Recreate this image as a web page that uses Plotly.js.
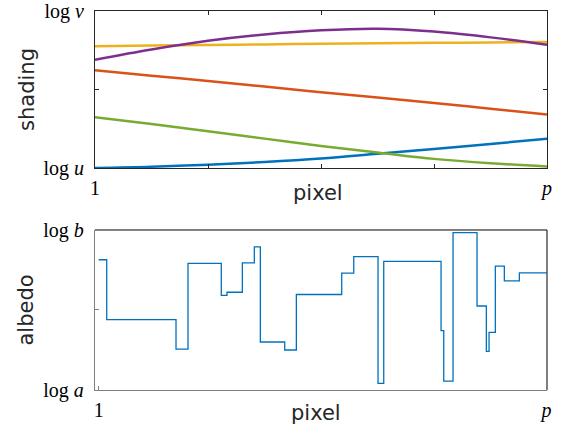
<!DOCTYPE html>
<html>
<head>
<meta charset="utf-8">
<script src="https://cdn.plot.ly/plotly-3.0.1.min.js"></script>
<style>html,body{margin:0;padding:0;background:#fff;}#chart{width:562px;height:434px;}</style>
</head>
<body>
<div id="chart"></div>
<script>
// ---- Top panel: shading curves (normalized between log u and log v) ----
var shadingX = [1, 13.375, 25.75, 38.125, 50.5, 62.875, 75.25, 87.625, 100];
var shadingBlue   = [0.000, 0.008, 0.021, 0.038, 0.060, 0.090, 0.121, 0.153, 0.186];
var shadingOrange = [0.623, 0.588, 0.554, 0.519, 0.483, 0.449, 0.414, 0.378, 0.341];
var shadingYellow = [0.776, 0.780, 0.783, 0.787, 0.791, 0.794, 0.797, 0.800, 0.803];
var shadingPurple = [0.690, 0.755, 0.810, 0.850, 0.877, 0.887, 0.869, 0.832, 0.785];
var shadingGreen  = [0.324, 0.280, 0.234, 0.187, 0.140, 0.099, 0.058, 0.030, 0.010];

// ---- Bottom panel: albedo staircase (normalized between log a and log b) ----
var albedoX = [1, 2.77, 18.09, 20.74, 28.10, 29.36, 32.75, 35.40, 36.73, 42.12, 44.69, 54.72,
               57.38, 62.75, 64.01, 76.68, 77.27, 79.33, 84.63, 86.69, 87.29, 88.68, 90.67, 93.99, 100];
var albedoY = [0.814, 0.440, 0.256, 0.791, 0.592, 0.611, 0.795, 0.895, 0.300, 0.250, 0.597, 0.730,
               0.833, 0.041, 0.804, 0.371, 0.055, 0.983, 0.525, 0.241, 0.360, 0.774, 0.682, 0.732, 0.732];

var xTickVals = [1, 25.75, 50.5, 75.25, 100];
var xTickText = ['1', '', '', '', '<i>p</i>'];
var topYTickVals = [0, 0.5, 1];
var topYTickText = ['log <i>u</i>', '', 'log <i>v</i>'];
var botXTickVals = [1, 100];
var botXTickText = ['1', '<i>p</i>'];
var botYTickVals = [0, 0.5, 1];
var botYTickText = ['log <i>a</i>', '', 'log <i>b</i>'];
var xTitle = 'pixel';
var topYTitle = 'shading';
var botYTitle = 'albedo';

var colors = {blue:'#0072BD', orange:'#D95319', yellow:'#EDB120', purple:'#7E2F8E', green:'#77AC30'};

function curve(y, c){
  return {x: shadingX, y: y, type:'scatter', mode:'lines', xaxis:'x', yaxis:'y',
          line:{color:c, width:2.5, shape:'spline', smoothing:1}, hoverinfo:'skip', showlegend:false};
}

var data = [
  curve(shadingBlue, colors.blue),
  curve(shadingOrange, colors.orange),
  curve(shadingYellow, colors.yellow),
  curve(shadingPurple, colors.purple),
  curve(shadingGreen, colors.green),
  {x: albedoX, y: albedoY, type:'scatter', mode:'lines', xaxis:'x2', yaxis:'y2',
   line:{color:colors.blue, width:1.3, shape:'hv'}, hoverinfo:'skip', showlegend:false}
];

var serif = {family:'Liberation Serif, Times New Roman, serif', size:20, color:'#000'};
var sans = {family:'DejaVu Sans, Liberation Sans, sans-serif', size:21, color:'#262626'};
var dark = '#262626';
var gray = '#808080';

var layout = {
  width:562, height:434,
  margin:{l:95, r:15, t:11, b:44},
  paper_bgcolor:'#fff', plot_bgcolor:'#fff',
  showlegend:false,
  xaxis:{domain:[0,1], anchor:'y', range:[1,100], tickmode:'array', tickvals:xTickVals, ticktext:xTickText,
         ticks:'inside', ticklen:4, tickcolor:dark, showline:true, linecolor:dark, linewidth:1, mirror:'ticks',
         showgrid:false, zeroline:false, tickfont:serif, ticklabelstandoff:2, ticklabeloverflow:'allow'},
  yaxis:{domain:[0.5858,1], anchor:'x', range:[0,1], tickmode:'array', tickvals:topYTickVals, ticktext:topYTickText,
         ticks:'inside', ticklen:4, tickcolor:dark, showline:true, linecolor:dark, linewidth:1, mirror:'ticks',
         showgrid:false, zeroline:false, tickfont:serif, ticklabelstandoff:6, ticklabeloverflow:'allow',
         title:{text:topYTitle, font:sans, standoff:3}},
  xaxis2:{domain:[0,1], anchor:'y2', range:[0.18,100.1], tickmode:'array', tickvals:botXTickVals, ticktext:botXTickText,
          ticks:'inside', ticklen:4, tickcolor:gray, showline:true, linecolor:gray, linewidth:1.2, mirror:false,
          showgrid:false, zeroline:false, tickfont:serif, ticklabelstandoff:2, ticklabeloverflow:'allow'},
  yaxis2:{domain:[0,0.4222], anchor:'x2', range:[0,1], tickmode:'array', tickvals:botYTickVals, ticktext:botYTickText,
          ticks:'inside', ticklen:4, tickcolor:gray, showline:true, linecolor:gray, linewidth:1.2, mirror:false,
          showgrid:false, zeroline:false, tickfont:serif, ticklabelstandoff:6, ticklabeloverflow:'allow',
          title:{text:botYTitle, font:sans, standoff:3}},
  annotations:[
    {text:xTitle, xref:'paper', yref:'paper', x:0.493, y:0.520, xanchor:'center', yanchor:'middle', showarrow:false, font:sans},
    {text:xTitle, xref:'paper', yref:'paper', x:0.490, y:-0.0594, xanchor:'center', yanchor:'middle', showarrow:false, font:sans}
  ],
  shapes:[
    {type:'line', xref:'x2 domain', yref:'y2 domain', x0:0, x1:1, y0:1, y1:1, line:{color:'#000', width:1}},
    {type:'line', xref:'x2 domain', yref:'y2 domain', x0:1, x1:1, y0:0, y1:1, line:{color:'#000', width:1}}
  ]
};

Plotly.newPlot('chart', data, layout, {staticPlot:true, displayModeBar:false});
</script>
</body>
</html>
